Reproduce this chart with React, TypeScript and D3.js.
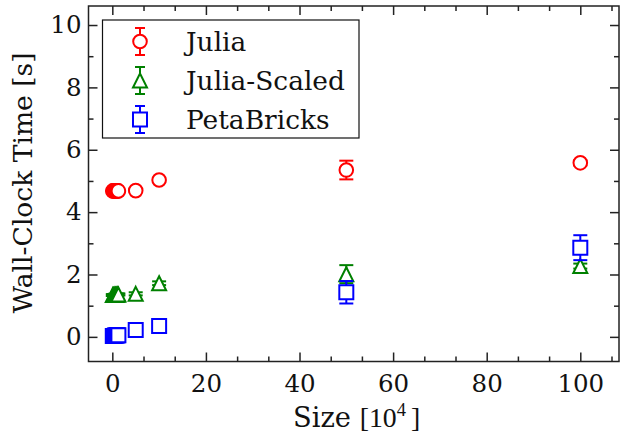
import React, { useEffect, useRef } from "react";
import * as d3 from "d3";

// sizes in units of 10^4
const sizes = [0.1, 0.25, 0.4, 0.55, 0.7, 0.85, 1.0, 1.15, 1.3, 5, 10, 50, 100];

const juliaTime = [4.68, 4.68, 4.68, 4.68, 4.68, 4.68, 4.68, 4.68, 4.68, 4.69, 5.03, 5.35, 5.58];
const juliaErr = [0.03, 0.03, 0.03, 0.03, 0.03, 0.03, 0.03, 0.03, 0.03, 0.04, 0.05, 0.3, 0.08];

const scaledTime = [1.34, 1.34, 1.34, 1.35, 1.35, 1.35, 1.35, 1.36, 1.36, 1.38, 1.72, 2.01, 2.27];
const scaledErr = [0.03, 0.03, 0.03, 0.03, 0.03, 0.03, 0.03, 0.03, 0.03, 0.05, 0.06, 0.29, 0.08];

const petaTime = [0.03, 0.03, 0.03, 0.04, 0.04, 0.04, 0.05, 0.05, 0.05, 0.22, 0.35, 1.43, 2.86];
const petaErr = [0.01, 0.01, 0.01, 0.01, 0.01, 0.01, 0.02, 0.02, 0.02, 0.03, 0.04, 0.36, 0.4];

const xTicks = [0, 20, 40, 60, 80, 100];
const yTicks = [0, 2, 4, 6, 8, 10];

const seriesNames = ["Julia", "Julia-Scaled", "PetaBricks"];
const seriesColors = ["#ff0000", "#008000", "#0000ff"];
const seriesShapes = ["circle", "triangle", "square"];

const W = 620;
const H = 437;
const FONT = "'DejaVu Serif', serif";

function markerPath(shape: string) {
  if (shape === "circle") return d3.symbol(d3.symbolCircle, Math.PI * 6.8 * 6.8)();
  if (shape === "square") return "M-7,-7L7,-7L7,7L-7,7Z";
  return "M0,-7L7,7L-7,7Z";
}

// scale a text's font so its width matches what the reference shows
function fitText(sel: any, target: number) {
  const node = sel.node() as SVGTextElement;
  const fs = parseFloat(sel.style("font-size"));
  const len = node.getComputedTextLength();
  if (len > 0) sel.style("font-size", `${(fs * target) / len}px`);
  return (fs * target) / len;
}

function App() {
  const ref = useRef<SVGSVGElement>(null);

  useEffect(() => {
    const svg = d3.select(ref.current);
    svg.selectAll("*").remove();

    const left = 88.5, right = 619, top = 6, bottom = 361.5;

    const x = d3.scaleLinear().domain([-5.09, 108.27]).range([left, right]);
    const y = d3.scaleLinear().domain([-0.79, 10.61]).range([bottom, top]);

    const xMinor = d3.range(-3, 17).map((k) => (k * 20) / 3).filter((v) => v > -5 && v < 108 && Math.abs(v % 20) > 0.01);
    const yMinor = [1, 3, 5, 7, 9];

    // ticks
    const tickColor = "#222";
    const axes = svg.append("g");
    axes.append("g").attr("transform", `translate(0,${bottom})`)
      .call(d3.axisBottom(x).tickValues(xTicks).tickSize(-9).tickPadding(13).tickFormat(d3.format("d")));
    axes.append("g").attr("transform", `translate(0,${top})`)
      .call(d3.axisTop(x).tickValues(xTicks).tickSize(-9).tickFormat(() => ""));
    axes.append("g").attr("transform", `translate(${left},0)`)
      .call(d3.axisLeft(y).tickValues(yTicks).tickSize(-9).tickPadding(7).tickFormat(d3.format("d")));
    axes.append("g").attr("transform", `translate(${right},0)`)
      .call(d3.axisRight(y).tickValues(yTicks).tickSize(-9).tickFormat(() => ""));

    axes.append("g").attr("transform", `translate(0,${bottom})`)
      .call(d3.axisBottom(x).tickValues(xMinor).tickSize(-5).tickFormat(() => ""));
    axes.append("g").attr("transform", `translate(0,${top})`)
      .call(d3.axisTop(x).tickValues(xMinor).tickSize(-5).tickFormat(() => ""));
    axes.append("g").attr("transform", `translate(${left},0)`)
      .call(d3.axisLeft(y).tickValues(yMinor).tickSize(-5).tickFormat(() => ""));
    axes.append("g").attr("transform", `translate(${right},0)`)
      .call(d3.axisRight(y).tickValues(yMinor).tickSize(-5).tickFormat(() => ""));

    axes.selectAll(".domain").remove();
    axes.selectAll("line").attr("stroke", tickColor).attr("stroke-width", 1.5);
    axes.selectAll("text").attr("fill", "#111").style("font-family", FONT).style("font-size", "24.5px");

    svg.append("rect")
      .attr("x", left).attr("y", top)
      .attr("width", right - left).attr("height", bottom - top)
      .attr("fill", "none").attr("stroke", tickColor).attr("stroke-width", 1.5);

    // data: error bars below, white-filled markers on top
    const series = [
      { t: juliaTime, e: juliaErr },
      { t: scaledTime, e: scaledErr },
      { t: petaTime, e: petaErr },
    ];
    const cap = 7;
    series.forEach((s, i) => {
      const g = svg.append("g").attr("stroke", seriesColors[i]).attr("stroke-width", 2).attr("fill", "none");
      sizes.forEach((sz, j) => {
        const cx = x(sz);
        const y0 = y(s.t[j] - s.e[j]);
        const y1 = y(s.t[j] + s.e[j]);
        g.append("line").attr("x1", cx).attr("x2", cx).attr("y1", y0).attr("y2", y1);
        g.append("line").attr("x1", cx - cap).attr("x2", cx + cap).attr("y1", y0).attr("y2", y0);
        g.append("line").attr("x1", cx - cap).attr("x2", cx + cap).attr("y1", y1).attr("y2", y1);
      });
      sizes.forEach((sz, j) => {
        g.append("path").attr("d", markerPath(seriesShapes[i])).attr("fill", "white")
          .attr("transform", `translate(${x(sz)},${y(s.t[j])})`);
      });
    });

    // legend
    const lg = svg.append("g");
    lg.append("rect").attr("x", 102.5).attr("y", 20).attr("width", 256.5).attr("height", 118)
      .attr("fill", "white").attr("stroke", "#111").attr("stroke-width", 1.2);
    const labels: any[] = [];
    seriesNames.forEach((name, i) => {
      const cy = 41.5 + i * 39;
      const g = lg.append("g").attr("stroke", seriesColors[i]).attr("stroke-width", 2).attr("fill", "none");
      g.append("line").attr("x1", 140).attr("x2", 140).attr("y1", cy - 13.5).attr("y2", cy + 13.5);
      g.append("line").attr("x1", 135).attr("x2", 145).attr("y1", cy - 13.5).attr("y2", cy - 13.5);
      g.append("line").attr("x1", 135).attr("x2", 145).attr("y1", cy + 13.5).attr("y2", cy + 13.5);
      g.append("path").attr("d", markerPath(seriesShapes[i])).attr("fill", "white")
        .attr("transform", `translate(140,${cy})`);
      labels.push(lg.append("text").attr("x", 186).attr("y", cy + 9).text(name)
        .style("font-family", FONT).style("font-size", "24px").attr("fill", "#111"));
    });
    const legendFs = fitText(labels[1], 159);
    labels.forEach((l) => l.style("font-size", `${legendFs}px`));

    // axis labels
    const yl = svg.append("text")
      .attr("transform", `translate(31.5,182.8) rotate(-90)`)
      .attr("text-anchor", "middle")
      .style("font-family", FONT).style("font-size", "25px").attr("fill", "#111")
      .text("Wall-Clock Time [s]");
    fitText(yl, 261);

    const xl = svg.append("text")
      .attr("x", 293).attr("y", 427)
      .style("font-family", FONT).style("font-size", `${legendFs}px`).attr("fill", "#111");
    xl.append("tspan").text("Size ");
    xl.append("tspan").style("font-family", "'Liberation Serif', serif").style("font-size", `${legendFs * 1.05}px`).text("[10");
    xl.append("tspan").attr("dy", -11).style("font-family", "'Liberation Serif', serif")
      .style("font-size", `${legendFs * 0.7}px`).text("4");
    xl.append("tspan").attr("dy", 11).attr("dx", 5).style("font-family", "'Liberation Serif', serif")
      .style("font-size", `${legendFs * 1.05}px`).text("]");
    fitText(xl, 124);
  }, []);

  return (
    <svg ref={ref} width={W} height={H} style={{ position: "absolute", left: 0, top: 0, background: "white" }}></svg>
  );
}

export default App;
